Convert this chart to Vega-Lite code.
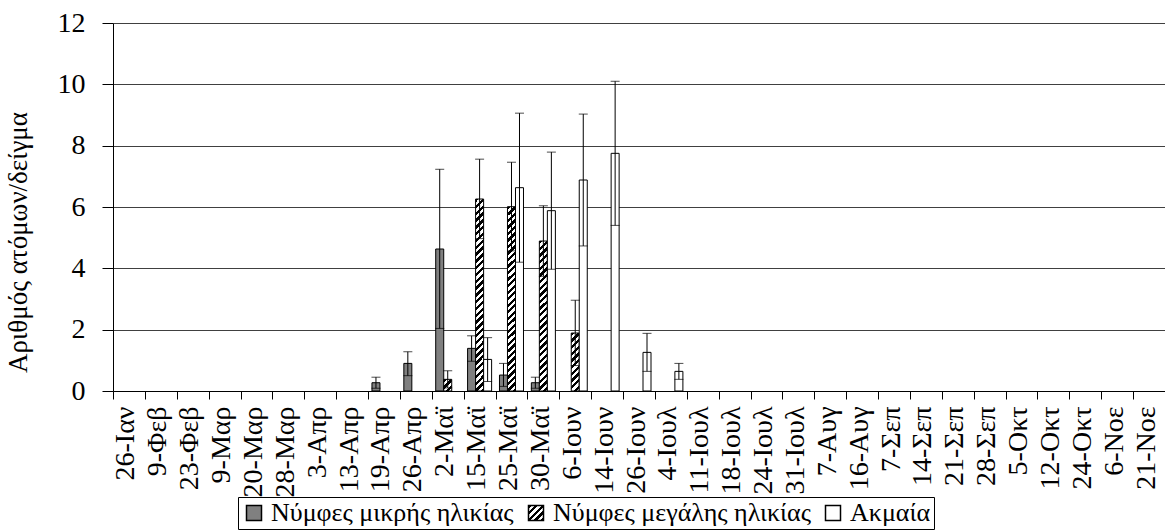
{
"$schema": "https://vega.github.io/schema/vega-lite/v6.json",
"width": 1052, "height": 368,
"autosize": {"type": "none"},
"padding": {"left": 113, "top": 23, "right": 0, "bottom": 139},
"background": "#ffffff",
"config": {"view": {"stroke": null}, "font": "Liberation Serif",
 "axisY": {"titleFont": "Liberation Serif", "titleFontSize": 27, "titleFontWeight": "normal", "titleColor": "#000", "titleX": -81, "titleY": 219, "labelFont": "Liberation Serif", "labelFontSize": 28, "labelColor": "#000", "labelPadding": 17, "tickSize": 11, "tickColor": "#000", "domainColor": "#000", "grid": true, "gridColor": "#404040", "gridWidth": 1}},
"data": {"values": [
{"date":"19-Απρ","series":"Νύμφες μικρής ηλικίας","value":0.27,"lo":0.09,"hi":0.45},
{"date":"26-Απρ","series":"Νύμφες μικρής ηλικίας","value":0.9,"lo":0.5,"hi":1.28},
{"date":"2-Μαϊ","series":"Νύμφες μικρής ηλικίας","value":4.63,"lo":2.04,"hi":7.23},
{"date":"2-Μαϊ","series":"Νύμφες μεγάλης ηλικίας","value":0.38,"lo":0.1,"hi":0.66},
{"date":"15-Μαϊ","series":"Νύμφες μικρής ηλικίας","value":1.39,"lo":0.97,"hi":1.8},
{"date":"15-Μαϊ","series":"Νύμφες μεγάλης ηλικίας","value":6.26,"lo":4.97,"hi":7.56},
{"date":"15-Μαϊ","series":"Ακμαία","value":1.03,"lo":0.31,"hi":1.74},
{"date":"25-Μαϊ","series":"Νύμφες μικρής ηλικίας","value":0.52,"lo":0.15,"hi":0.9},
{"date":"25-Μαϊ","series":"Νύμφες μεγάλης ηλικίας","value":6.01,"lo":4.57,"hi":7.46},
{"date":"25-Μαϊ","series":"Ακμαία","value":6.63,"lo":4.2,"hi":9.06},
{"date":"30-Μαϊ","series":"Νύμφες μικρής ηλικίας","value":0.27,"lo":0.09,"hi":0.45},
{"date":"30-Μαϊ","series":"Νύμφες μεγάλης ηλικίας","value":4.89,"lo":3.74,"hi":6.04},
{"date":"30-Μαϊ","series":"Ακμαία","value":5.88,"lo":3.97,"hi":7.79},
{"date":"6-Ιουν","series":"Νύμφες μεγάλης ηλικίας","value":1.89,"lo":0.83,"hi":2.96},
{"date":"6-Ιουν","series":"Ακμαία","value":6.88,"lo":4.73,"hi":9.03},
{"date":"14-Ιουν","series":"Ακμαία","value":7.75,"lo":5.4,"hi":10.1},
{"date":"26-Ιουν","series":"Ακμαία","value":1.26,"lo":0.64,"hi":1.88},
{"date":"4-Ιουλ","series":"Ακμαία","value":0.64,"lo":0.38,"hi":0.9}
]},
"encoding": {
 "x": {"field": "date", "type": "nominal",
  "scale": {"domain": ["26-Ιαν","9-Φεβ","23-Φεβ","9-Μαρ","20-Μαρ","28-Μαρ","3-Απρ","13-Απρ","19-Απρ","26-Απρ","2-Μαϊ","15-Μαϊ","25-Μαϊ","30-Μαϊ","6-Ιουν","14-Ιουν","26-Ιουν","4-Ιουλ","11-Ιουλ","18-Ιουλ","24-Ιουλ","31-Ιουλ","7-Αυγ","16-Αυγ","7-Σεπ","14-Σεπ","21-Σεπ","28-Σεπ","5-Οκτ","12-Οκτ","24-Οκτ","6-Νοε","21-Νοε"], "paddingInner": 0, "paddingOuter": 0},
  "axis": {"title": null, "labelAngle": -90, "labelFont": "Liberation Serif", "labelFontSize": 28, "labelColor": "#000", "labelLimit": 300, "labelPadding": 7, "labelOffset": -3, "tickBand": "extent", "tickColor": "#000", "tickSize": 8, "domainColor": "#000", "grid": false}},
 "xOffset": {"field": "series", "type": "nominal", "scale": {"domain": ["Νύμφες μικρής ηλικίας","Νύμφες μεγάλης ηλικίας","Ακμαία"], "paddingInner": 0, "paddingOuter": 0.49}}
},
"layer": [
 {"mark": {"type": "bar", "stroke": "#000", "strokeWidth": 1},
  "encoding": {
   "y": {"field": "value", "type": "quantitative", "title": "Αριθμός ατόμων/δείγμα", "scale": {"domain": [0, 12], "nice": false},
    "axis": {"values": [0,2,4,6,8,10,12]}},
   "fill": {
    "condition": [
     {"test": "datum.series === 'Νύμφες μεγάλης ηλικίας' && datum.date === '2-Μαϊ'",
      "value": {"gradient": "linear", "x1": 0, "y1": 0, "x2": 0.8, "y2": 1.166, "stops": [{"offset":0.1667,"color":"#000"},{"offset":0.1667,"color":"#fff"},{"offset":0.3333,"color":"#fff"},{"offset":0.3333,"color":"#000"},{"offset":0.5,"color":"#000"},{"offset":0.5,"color":"#fff"},{"offset":0.6667,"color":"#fff"},{"offset":0.6667,"color":"#000"},{"offset":0.8333,"color":"#000"},{"offset":0.8333,"color":"#fff"}]}},
     {"test": "datum.series === 'Νύμφες μεγάλης ηλικίας' && (datum.date === '15-Μαϊ' || datum.date === '25-Μαϊ')",
      "value": {"gradient": "linear", "x1": 0, "y1": 0, "x2": 0.045, "y2": 1.06, "stops": [{"offset":0.0167,"color":"#000"},{"offset":0.0167,"color":"#fff"},{"offset":0.0333,"color":"#fff"},{"offset":0.0333,"color":"#000"},{"offset":0.05,"color":"#000"},{"offset":0.05,"color":"#fff"},{"offset":0.0667,"color":"#fff"},{"offset":0.0667,"color":"#000"},{"offset":0.0833,"color":"#000"},{"offset":0.0833,"color":"#fff"},{"offset":0.1,"color":"#fff"},{"offset":0.1,"color":"#000"},{"offset":0.1167,"color":"#000"},{"offset":0.1167,"color":"#fff"},{"offset":0.1333,"color":"#fff"},{"offset":0.1333,"color":"#000"},{"offset":0.15,"color":"#000"},{"offset":0.15,"color":"#fff"},{"offset":0.1667,"color":"#fff"},{"offset":0.1667,"color":"#000"},{"offset":0.1833,"color":"#000"},{"offset":0.1833,"color":"#fff"},{"offset":0.2,"color":"#fff"},{"offset":0.2,"color":"#000"},{"offset":0.2167,"color":"#000"},{"offset":0.2167,"color":"#fff"},{"offset":0.2333,"color":"#fff"},{"offset":0.2333,"color":"#000"},{"offset":0.25,"color":"#000"},{"offset":0.25,"color":"#fff"},{"offset":0.2667,"color":"#fff"},{"offset":0.2667,"color":"#000"},{"offset":0.2833,"color":"#000"},{"offset":0.2833,"color":"#fff"},{"offset":0.3,"color":"#fff"},{"offset":0.3,"color":"#000"},{"offset":0.3167,"color":"#000"},{"offset":0.3167,"color":"#fff"},{"offset":0.3333,"color":"#fff"},{"offset":0.3333,"color":"#000"},{"offset":0.35,"color":"#000"},{"offset":0.35,"color":"#fff"},{"offset":0.3667,"color":"#fff"},{"offset":0.3667,"color":"#000"},{"offset":0.3833,"color":"#000"},{"offset":0.3833,"color":"#fff"},{"offset":0.4,"color":"#fff"},{"offset":0.4,"color":"#000"},{"offset":0.4167,"color":"#000"},{"offset":0.4167,"color":"#fff"},{"offset":0.4333,"color":"#fff"},{"offset":0.4333,"color":"#000"},{"offset":0.45,"color":"#000"},{"offset":0.45,"color":"#fff"},{"offset":0.4667,"color":"#fff"},{"offset":0.4667,"color":"#000"},{"offset":0.4833,"color":"#000"},{"offset":0.4833,"color":"#fff"},{"offset":0.5,"color":"#fff"},{"offset":0.5,"color":"#000"},{"offset":0.5167,"color":"#000"},{"offset":0.5167,"color":"#fff"},{"offset":0.5333,"color":"#fff"},{"offset":0.5333,"color":"#000"},{"offset":0.55,"color":"#000"},{"offset":0.55,"color":"#fff"},{"offset":0.5667,"color":"#fff"},{"offset":0.5667,"color":"#000"},{"offset":0.5833,"color":"#000"},{"offset":0.5833,"color":"#fff"},{"offset":0.6,"color":"#fff"},{"offset":0.6,"color":"#000"},{"offset":0.6167,"color":"#000"},{"offset":0.6167,"color":"#fff"},{"offset":0.6333,"color":"#fff"},{"offset":0.6333,"color":"#000"},{"offset":0.65,"color":"#000"},{"offset":0.65,"color":"#fff"},{"offset":0.6667,"color":"#fff"},{"offset":0.6667,"color":"#000"},{"offset":0.6833,"color":"#000"},{"offset":0.6833,"color":"#fff"},{"offset":0.7,"color":"#fff"},{"offset":0.7,"color":"#000"},{"offset":0.7167,"color":"#000"},{"offset":0.7167,"color":"#fff"},{"offset":0.7333,"color":"#fff"},{"offset":0.7333,"color":"#000"},{"offset":0.75,"color":"#000"},{"offset":0.75,"color":"#fff"},{"offset":0.7667,"color":"#fff"},{"offset":0.7667,"color":"#000"},{"offset":0.7833,"color":"#000"},{"offset":0.7833,"color":"#fff"},{"offset":0.8,"color":"#fff"},{"offset":0.8,"color":"#000"},{"offset":0.8167,"color":"#000"},{"offset":0.8167,"color":"#fff"},{"offset":0.8333,"color":"#fff"},{"offset":0.8333,"color":"#000"},{"offset":0.85,"color":"#000"},{"offset":0.85,"color":"#fff"},{"offset":0.8667,"color":"#fff"},{"offset":0.8667,"color":"#000"},{"offset":0.8833,"color":"#000"},{"offset":0.8833,"color":"#fff"},{"offset":0.9,"color":"#fff"},{"offset":0.9,"color":"#000"},{"offset":0.9167,"color":"#000"},{"offset":0.9167,"color":"#fff"},{"offset":0.9333,"color":"#fff"},{"offset":0.9333,"color":"#000"},{"offset":0.95,"color":"#000"},{"offset":0.95,"color":"#fff"},{"offset":0.9667,"color":"#fff"},{"offset":0.9667,"color":"#000"},{"offset":0.9833,"color":"#000"},{"offset":0.9833,"color":"#fff"}]}},
     {"test": "datum.series === 'Νύμφες μεγάλης ηλικίας' && datum.date === '30-Μαϊ'",
      "value": {"gradient": "linear", "x1": 0, "y1": 0, "x2": 0.059, "y2": 1.107, "stops": [{"offset":0.02,"color":"#000"},{"offset":0.02,"color":"#fff"},{"offset":0.04,"color":"#fff"},{"offset":0.04,"color":"#000"},{"offset":0.06,"color":"#000"},{"offset":0.06,"color":"#fff"},{"offset":0.08,"color":"#fff"},{"offset":0.08,"color":"#000"},{"offset":0.1,"color":"#000"},{"offset":0.1,"color":"#fff"},{"offset":0.12,"color":"#fff"},{"offset":0.12,"color":"#000"},{"offset":0.14,"color":"#000"},{"offset":0.14,"color":"#fff"},{"offset":0.16,"color":"#fff"},{"offset":0.16,"color":"#000"},{"offset":0.18,"color":"#000"},{"offset":0.18,"color":"#fff"},{"offset":0.2,"color":"#fff"},{"offset":0.2,"color":"#000"},{"offset":0.22,"color":"#000"},{"offset":0.22,"color":"#fff"},{"offset":0.24,"color":"#fff"},{"offset":0.24,"color":"#000"},{"offset":0.26,"color":"#000"},{"offset":0.26,"color":"#fff"},{"offset":0.28,"color":"#fff"},{"offset":0.28,"color":"#000"},{"offset":0.3,"color":"#000"},{"offset":0.3,"color":"#fff"},{"offset":0.32,"color":"#fff"},{"offset":0.32,"color":"#000"},{"offset":0.34,"color":"#000"},{"offset":0.34,"color":"#fff"},{"offset":0.36,"color":"#fff"},{"offset":0.36,"color":"#000"},{"offset":0.38,"color":"#000"},{"offset":0.38,"color":"#fff"},{"offset":0.4,"color":"#fff"},{"offset":0.4,"color":"#000"},{"offset":0.42,"color":"#000"},{"offset":0.42,"color":"#fff"},{"offset":0.44,"color":"#fff"},{"offset":0.44,"color":"#000"},{"offset":0.46,"color":"#000"},{"offset":0.46,"color":"#fff"},{"offset":0.48,"color":"#fff"},{"offset":0.48,"color":"#000"},{"offset":0.5,"color":"#000"},{"offset":0.5,"color":"#fff"},{"offset":0.52,"color":"#fff"},{"offset":0.52,"color":"#000"},{"offset":0.54,"color":"#000"},{"offset":0.54,"color":"#fff"},{"offset":0.56,"color":"#fff"},{"offset":0.56,"color":"#000"},{"offset":0.58,"color":"#000"},{"offset":0.58,"color":"#fff"},{"offset":0.6,"color":"#fff"},{"offset":0.6,"color":"#000"},{"offset":0.62,"color":"#000"},{"offset":0.62,"color":"#fff"},{"offset":0.64,"color":"#fff"},{"offset":0.64,"color":"#000"},{"offset":0.66,"color":"#000"},{"offset":0.66,"color":"#fff"},{"offset":0.68,"color":"#fff"},{"offset":0.68,"color":"#000"},{"offset":0.7,"color":"#000"},{"offset":0.7,"color":"#fff"},{"offset":0.72,"color":"#fff"},{"offset":0.72,"color":"#000"},{"offset":0.74,"color":"#000"},{"offset":0.74,"color":"#fff"},{"offset":0.76,"color":"#fff"},{"offset":0.76,"color":"#000"},{"offset":0.78,"color":"#000"},{"offset":0.78,"color":"#fff"},{"offset":0.8,"color":"#fff"},{"offset":0.8,"color":"#000"},{"offset":0.82,"color":"#000"},{"offset":0.82,"color":"#fff"},{"offset":0.84,"color":"#fff"},{"offset":0.84,"color":"#000"},{"offset":0.86,"color":"#000"},{"offset":0.86,"color":"#fff"},{"offset":0.88,"color":"#fff"},{"offset":0.88,"color":"#000"},{"offset":0.9,"color":"#000"},{"offset":0.9,"color":"#fff"},{"offset":0.92,"color":"#fff"},{"offset":0.92,"color":"#000"},{"offset":0.94,"color":"#000"},{"offset":0.94,"color":"#fff"},{"offset":0.96,"color":"#fff"},{"offset":0.96,"color":"#000"},{"offset":0.98,"color":"#000"},{"offset":0.98,"color":"#fff"}]}},
     {"test": "datum.series === 'Νύμφες μεγάλης ηλικίας' && datum.date === '6-Ιουν'",
      "value": {"gradient": "linear", "x1": 0, "y1": 0, "x2": 0.155, "y2": 1.127, "stops": [{"offset":0.05,"color":"#000"},{"offset":0.05,"color":"#fff"},{"offset":0.1,"color":"#fff"},{"offset":0.1,"color":"#000"},{"offset":0.15,"color":"#000"},{"offset":0.15,"color":"#fff"},{"offset":0.2,"color":"#fff"},{"offset":0.2,"color":"#000"},{"offset":0.25,"color":"#000"},{"offset":0.25,"color":"#fff"},{"offset":0.3,"color":"#fff"},{"offset":0.3,"color":"#000"},{"offset":0.35,"color":"#000"},{"offset":0.35,"color":"#fff"},{"offset":0.4,"color":"#fff"},{"offset":0.4,"color":"#000"},{"offset":0.45,"color":"#000"},{"offset":0.45,"color":"#fff"},{"offset":0.5,"color":"#fff"},{"offset":0.5,"color":"#000"},{"offset":0.55,"color":"#000"},{"offset":0.55,"color":"#fff"},{"offset":0.6,"color":"#fff"},{"offset":0.6,"color":"#000"},{"offset":0.65,"color":"#000"},{"offset":0.65,"color":"#fff"},{"offset":0.7,"color":"#fff"},{"offset":0.7,"color":"#000"},{"offset":0.75,"color":"#000"},{"offset":0.75,"color":"#fff"},{"offset":0.8,"color":"#fff"},{"offset":0.8,"color":"#000"},{"offset":0.85,"color":"#000"},{"offset":0.85,"color":"#fff"},{"offset":0.9,"color":"#fff"},{"offset":0.9,"color":"#000"},{"offset":0.95,"color":"#000"},{"offset":0.95,"color":"#fff"}]}}
    ],
    "field": "series", "type": "nominal",
    "scale": {"domain": ["Νύμφες μικρής ηλικίας","Νύμφες μεγάλης ηλικίας","Ακμαία"], "range": ["#808080",
      {"expr": "{gradient: 'linear', x1: 0, y1: 0, x2: 1.11, y2: 1.11, stops: [{offset: 0.1, color: '#000'}, {offset: 0.1, color: '#fff'}, {offset: 0.2, color: '#fff'}, {offset: 0.2, color: '#000'}, {offset: 0.3, color: '#000'}, {offset: 0.3, color: '#fff'}, {offset: 0.4, color: '#fff'}, {offset: 0.4, color: '#000'}, {offset: 0.5, color: '#000'}, {offset: 0.5, color: '#fff'}, {offset: 0.6, color: '#fff'}, {offset: 0.6, color: '#000'}, {offset: 0.7, color: '#000'}, {offset: 0.7, color: '#fff'}, {offset: 0.8, color: '#fff'}, {offset: 0.8, color: '#000'}, {offset: 0.9, color: '#000'}, {offset: 0.9, color: '#fff'}]}"},
      "#ffffff"]},
    "legend": {"title": null, "orient": "none", "legendX": 125, "legendY": 474, "direction": "horizontal", "columns": 3,
     "symbolType": "square", "symbolSize": 225,
     "labelFont": "Liberation Serif", "labelFontSize": 26, "labelColor": "#000", "labelLimit": 500, "labelOffset": 4,
     "columnPadding": 9, "strokeColor": "#000", "padding": 3}
   }
  }},
 {"mark": {"type": "rule", "color": "#000", "strokeWidth": 1},
  "encoding": {"y": {"field": "lo", "type": "quantitative", "title": "Αριθμός ατόμων/δείγμα"}, "y2": {"field": "hi"}}},
 {"mark": {"type": "tick", "color": "#000", "thickness": 1, "size": 9},
  "encoding": {"y": {"field": "hi", "type": "quantitative", "title": "Αριθμός ατόμων/δείγμα"}}},
 {"mark": {"type": "tick", "color": "#000", "thickness": 1, "size": 9},
  "encoding": {"y": {"field": "lo", "type": "quantitative", "title": "Αριθμός ατόμων/δείγμα"}}}
]
}
